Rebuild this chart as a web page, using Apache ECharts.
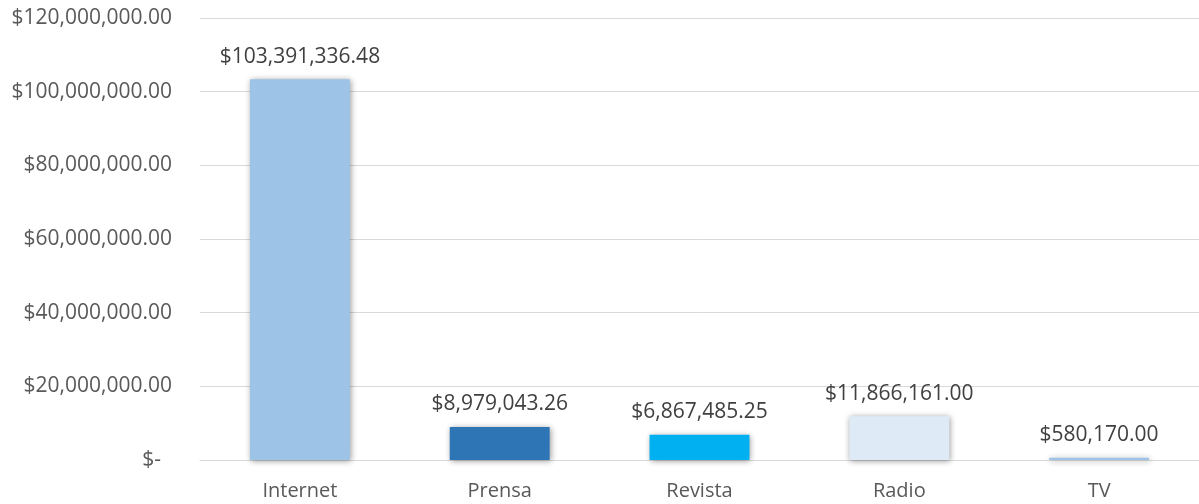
<!DOCTYPE html>
<html>
<head>
<meta charset="utf-8">
<script src="https://cdn.jsdelivr.net/npm/echarts@6/dist/echarts.min.js"></script>
<style>html,body{margin:0;padding:0;background:#fff;}#c{width:1199px;height:504px;}</style>
</head>
<body>
<div id="c"></div>
<script>
const categories = ['Internet', 'Prensa', 'Revista', 'Radio', 'TV'];
const values = [103391336.48, 8979043.26, 6867485.25, 11866161.00, 580170.00];
const barColors = ['#9DC3E6', '#2E75B6', '#00B0F0', '#DEEBF7', '#9DC3E6'];
const yTicks = [0, 20000000, 40000000, 60000000, 80000000, 100000000, 120000000];

const FONT = '"Open Sans", "Noto Sans", sans-serif';
function money(v) {
  if (v === 0) return '$-  ';
  return '$' + v.toLocaleString('en-US', {minimumFractionDigits: 2, maximumFractionDigits: 2});
}

const chart = echarts.init(document.getElementById('c'));
chart.setOption({
  animation: false,
  grid: {left: 200, width: 1005, top: 18, bottom: 44, containLabel: false},
  xAxis: {
    type: 'category',
    data: categories,
    axisLine: {lineStyle: {color: '#D9D9D9', width: 1}},
    axisTick: {show: false},
    axisLabel: {color: '#595959', fontFamily: FONT, fontSize: 20, margin: 21}
  },
  yAxis: {
    type: 'value',
    min: yTicks[0],
    max: yTicks[yTicks.length - 1],
    interval: yTicks[1] - yTicks[0],
    axisLine: {show: false},
    axisTick: {show: false},
    splitLine: {lineStyle: {color: '#D9D9D9', width: 1}},
    axisLabel: {color: '#595959', fontFamily: FONT, fontSize: 21, margin: 28, formatter: money}
  },
  series: [{
    type: 'bar',
    data: values.map((v, i) => ({value: v, itemStyle: {color: barColors[i]}})),
    barWidth: '50%',
    itemStyle: {shadowColor: 'rgba(0,0,0,0.4)', shadowBlur: 6, shadowOffsetX: 1, shadowOffsetY: 1},
    label: {
      show: true, position: 'top', distance: 12,
      color: '#404040', fontFamily: FONT, fontSize: 21,
      formatter: p => money(p.value)
    }
  }]
});
</script>
</body>
</html>
